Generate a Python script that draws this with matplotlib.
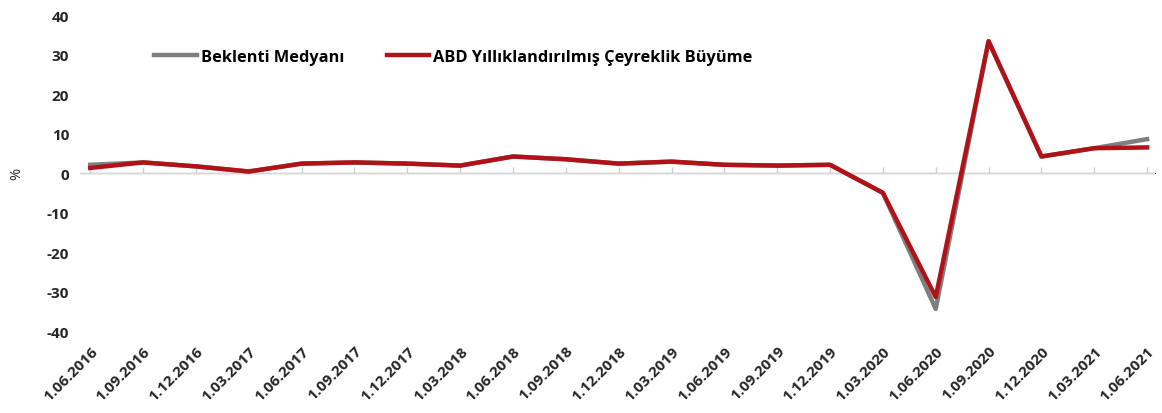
import matplotlib.pyplot as plt

plt.rcParams['font.family'] = ['Open Sans', 'DejaVu Sans']
plt.rcParams['font.weight'] = 'bold'
plt.rcParams['axes.unicode_minus'] = False

# çeyrek tarihleri
tarihler = ['1.06.2016', '1.09.2016', '1.12.2016', '1.03.2017', '1.06.2017', '1.09.2017',
            '1.12.2017', '1.03.2018', '1.06.2018', '1.09.2018', '1.12.2018', '1.03.2019',
            '1.06.2019', '1.09.2019', '1.12.2019', '1.03.2020', '1.06.2020', '1.09.2020',
            '1.12.2020', '1.03.2021', '1.06.2021']
# gerçekleşen büyüme (%)
buyume = [1.3, 2.7, 1.7, 0.4, 2.4, 2.7, 2.4, 1.9, 4.2, 3.5, 2.4, 2.9,
          2.1, 1.9, 2.1, -5.0, -31.4, 33.4, 4.2, 6.3, 6.5]
# beklenti medyanı (%)
beklenti = [2.1, 2.7, 1.7, 0.4, 2.4, 2.7, 2.4, 1.9, 4.2, 3.5, 2.4, 2.9,
            2.1, 1.9, 2.1, -5.0, -34.4, 33.4, 4.2, 6.3, 8.6]

x = list(range(len(tarihler)))
yazi = '#262626'

fig = plt.figure(figsize=(11.62, 4.14), dpi=100)
ax = fig.add_axes([0.069, 0.198, 0.925, 0.763])

ax.plot(x, beklenti, color='#7f7f7f', lw=3.2, label='Beklenti Medyanı', zorder=3)
ax.plot(x, buyume, color='#b01218', lw=3.2, label='ABD Yıllıklandırılmış Çeyreklik Büyüme', zorder=4)

ax.set_ylim(-40, 40)
ax.set_xlim(-0.19, 20.15)
ax.set_yticks(range(-40, 41, 10))
ax.tick_params(axis='y', length=0, labelsize=11, labelcolor=yazi, pad=8)
ax.set_ylabel('%', fontsize=10.5, color=yazi, labelpad=16)

for s in ax.spines.values():
    s.set_visible(False)

# tarih etiketleri altta, eğik
ax.set_xticks(x)
ax.set_xticklabels(tarihler, rotation=45, ha='right', rotation_mode='anchor',
                   fontsize=11, color=yazi)
ax.tick_params(axis='x', length=0, pad=9)

# sıfır çizgisi ve tik işaretleri
ax.axhline(0, color='#d9d9d9', lw=1, zorder=1)
sifir = ax.secondary_xaxis(0.5)
sifir.set_xticks(x)
sifir.set_xticklabels([])
sifir.spines['bottom'].set_visible(False)
sifir.tick_params(axis='x', length=4, width=1, color='#d0d0d0', direction='out')

ax.legend(loc='upper left', bbox_to_anchor=(0.055, 0.94), ncol=2, frameon=False,
          fontsize=11.8, handlelength=2.6, handletextpad=0.25, columnspacing=2.6)

plt.savefig('out.png', dpi=100)
